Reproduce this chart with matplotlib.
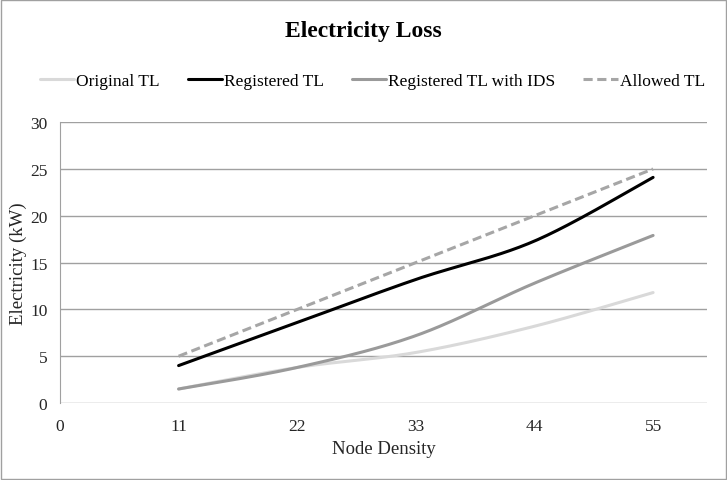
import numpy as np
import matplotlib
matplotlib.use("Agg")
import matplotlib.pyplot as plt

plt.rcParams["font.family"] = ["Liberation Serif", "DejaVu Serif"]

# data
node_density = [11, 22, 33, 44, 55]
original_tl = [1.5, 3.8, 5.4, 8.2, 11.8]
registered_tl = [4.0, 8.6, 13.2, 17.3, 24.1]
registered_ids = [1.5, 3.8, 7.2, 12.8, 17.9]
allowed_tl = [5, 10, 15, 20, 25]


def smooth(x, y, n=40):
    # catmull-rom style curve like Excel's "smoothed line"
    x = np.asarray(x, float)
    y = np.asarray(y, float)
    px = np.concatenate([[x[0]], x, [x[-1]]])
    py = np.concatenate([[y[0]], y, [y[-1]]])
    xs, ys = [], []
    t = np.linspace(0, 1, n)
    for i in range(1, len(px) - 2):
        p0, p1, p2, p3 = [np.array([px[j], py[j]]) for j in range(i - 1, i + 3)]
        c1 = p1 + (p2 - p0) / 6
        c2 = p2 - (p3 - p1) / 6
        pts = ((1 - t) ** 3)[:, None] * p1 + (3 * (1 - t) ** 2 * t)[:, None] * c1 \
            + (3 * (1 - t) * t ** 2)[:, None] * c2 + (t ** 3)[:, None] * p2
        xs.append(pts[:, 0])
        ys.append(pts[:, 1])
    return np.concatenate(xs), np.concatenate(ys)


fig = plt.figure(figsize=(7.27, 4.81), dpi=100)
ax = fig.add_axes([0.0825, 0.16, 0.89, 0.584])

series = [
    ("Original TL", original_tl, "#d9d9d9", "-"),
    ("Registered TL", registered_tl, "#000000", "-"),
    ("Registered TL with IDS", registered_ids, "#9a9a9a", "-"),
    ("Allowed TL", allowed_tl, "#a6a6a6", (0, (3, 1.5))),
]
for label, vals, color, ls in series:
    sx, sy = smooth(node_density, vals)
    ax.plot(sx, sy, color=color, lw=2.2, ls=ls, label=label, solid_capstyle="round")

ax.set_xlim(0, 60)
ax.set_ylim(0, 30)
ax.set_xticks([0, 11, 22, 33, 44, 55])
ax.set_yticks(range(0, 31, 5))
ax.yaxis.grid(True, color="#a0a0a0", lw=1)
ax.set_axisbelow(True)
for s in ["top", "right", "bottom"]:
    ax.spines[s].set_visible(False)
ax.spines["left"].set_color("#a0a0a0")
ax.tick_params(length=0, labelsize=12.5, pad=9, colors="#262626")
ax.tick_params(axis="x", pad=11)

ax.set_xlabel("Node Density", fontsize=13.5, color="#262626", labelpad=4)
ax.set_ylabel("Electricity (kW)", fontsize=13.5, color="#262626", labelpad=2)

fig.text(0.5, 0.935, "Electricity Loss", ha="center", va="center",
         fontsize=17, fontweight="bold")
fig.legend(loc="center", bbox_to_anchor=(0.512, 0.83), ncol=4, frameon=False,
           fontsize=12.5, handlelength=2.0, handletextpad=0.1, columnspacing=1.6)

fig.patches.append(plt.Rectangle((0.002, 0.002), 0.996, 0.996, transform=fig.transFigure,
                                 fill=False, edgecolor="#a0a0a0", lw=1))

fig.savefig("out.png", dpi=100)
